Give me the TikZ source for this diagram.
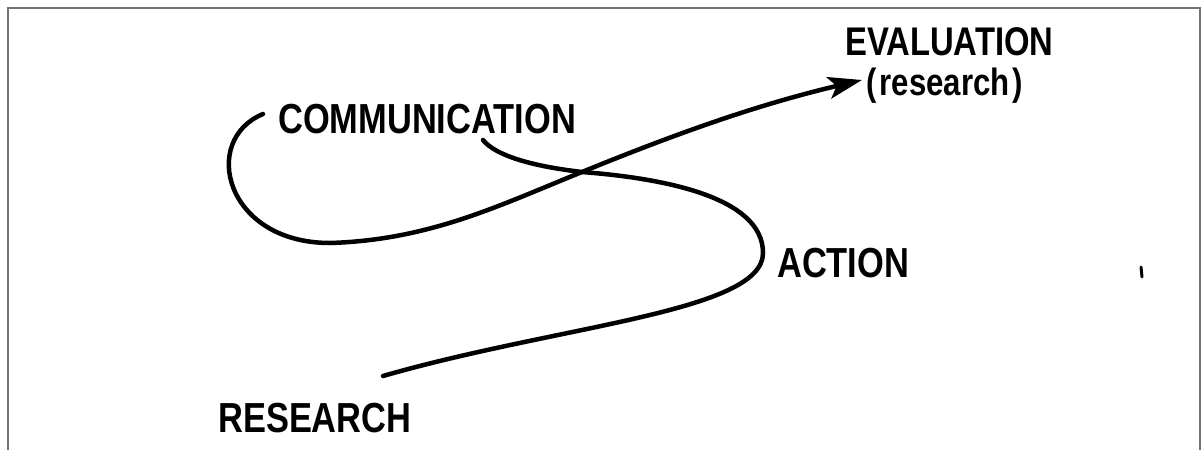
\documentclass[tikz,border=0pt]{standalone}
\usepackage{fontspec}
\setmainfont{Liberation Sans}[FakeStretch=0.82,BoldFont={* Bold}]
\usetikzlibrary{arrows.meta}
\begin{document}
\begin{tikzpicture}[x=1pt,y=-1pt,
  lbl/.style={anchor=base west,inner sep=0pt,font=\bfseries\fontsize{42}{46}\selectfont},
  curve/.style={line width=4.5pt,line cap=round},
  frame/.style={draw=black!55,line width=2pt}]
\useasboundingbox (0,0) rectangle (1204,450);
\draw[frame] (8,450) -- (8,8) -- (1200,8) -- (1200,450);
% labels
\node[lbl] (comm) at (278,133) {COMMUNICATION};
\node[lbl,font=\bfseries\fontsize{40}{44}\selectfont] (eval) at (845,55) {EVALUATION};
\node[lbl,font=\bfseries\fontsize{38}{42}\selectfont] (evalr) at (866,95) {(\kern3pt research\kern3pt)};
\node[lbl] (act) at (777,277) {ACTION};
\node[lbl] (res) at (218,432) {RESEARCH};
% path coordinates
\coordinate (rs) at (383,376);
\coordinate (bulge) at (763,253);
\coordinate (cross) at (582,172);
\coordinate (ce) at (483,140);
\coordinate (cs) at (263,114);
\coordinate (bot) at (330,243);
\coordinate (tip) at (862,80);
% research -> action -> communication
\draw[curve] (rs) .. controls (560,325) and (763,312) .. (bulge)
  .. controls (763,196) and (660,178) .. (cross)
  .. controls (530,166) and (495,155) .. (ce);
% communication -> evaluation
\draw[curve,-{Stealth[length=34pt,width=22pt,inset=8pt]}] (cs) .. controls (200,140) and (225,243) .. (bot)
  .. controls (430,240) and (500,205) .. (cross)
  .. controls (680,132) and (760,104) .. (tip);
% speck
\draw[line width=3pt,line cap=round] (1141,267) -- (1142,277);
\end{tikzpicture}
\end{document}
